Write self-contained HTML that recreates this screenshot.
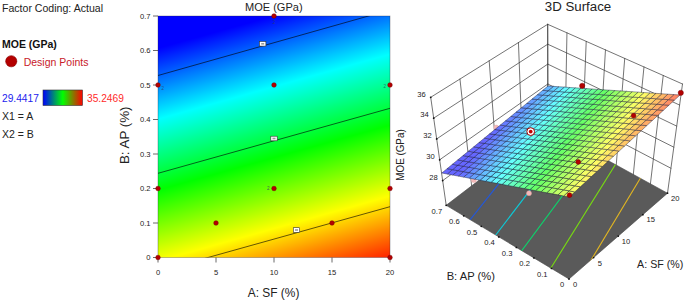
<!DOCTYPE html>
<html><head><meta charset="utf-8"><title>chart</title>
<style>html,body{margin:0;padding:0;background:#fff}body{width:685px;height:300px;overflow:hidden;font-family:"Liberation Sans",sans-serif}</style></head>
<body>
<svg width="685" height="300" viewBox="0 0 685 300" style="display:block">
<rect width="685" height="300" fill="#fff"/>
<defs><linearGradient id="cg" gradientUnits="userSpaceOnUse" x1="103.63" y1="63.45" x2="177.36" y2="326.60">
<stop offset="0" stop-color="#0000ff"/>
<stop offset="0.25" stop-color="#00ffff"/>
<stop offset="0.5" stop-color="#00ff00"/>
<stop offset="0.75" stop-color="#ffff00"/>
<stop offset="1" stop-color="#ff0000"/>
</linearGradient>
<linearGradient id="lg" x1="0" x2="1" y1="0" y2="0"><stop offset="0" stop-color="#0000ff"/><stop offset="0.5" stop-color="#00ff00"/><stop offset="1" stop-color="#ff0000"/></linearGradient>
<clipPath id="cc"><rect x="158" y="16" width="232" height="241.5"/></clipPath></defs>
<rect x="158" y="16" width="232" height="241.5" fill="url(#cg)"/>
<rect x="158" y="16" width="232" height="241.5" fill="none" stroke="#223" stroke-opacity="0.45" stroke-width="0.7"/>
<g clip-path="url(#cc)" stroke="#000" stroke-opacity="0.72" stroke-width="0.85" fill="none">
<line x1="136.95" y1="81.45" x2="389.55" y2="10.05"/>
<line x1="134.80" y1="179.80" x2="413.20" y2="101.80"/>
<line x1="189.80" y1="262.58" x2="408.20" y2="201.62"/>
</g>
<rect x="259.5" y="41.5" width="6.4" height="4.6" fill="#fff" stroke="#333" stroke-width="0.6"/>
<rect x="261.2" y="43.0" width="3" height="1.6" fill="#999"/>
<rect x="270.8" y="136.2" width="6.4" height="4.6" fill="#fff" stroke="#333" stroke-width="0.6"/>
<rect x="272.5" y="137.7" width="3" height="1.6" fill="#999"/>
<rect x="293.3" y="227.7" width="6.4" height="4.6" fill="#fff" stroke="#333" stroke-width="0.6"/>
<rect x="295.0" y="229.2" width="3" height="1.6" fill="#999"/>
<g stroke="#444" stroke-width="0.8">
<line x1="158.0" y1="257.5" x2="158.0" y2="262.5"/>
<line x1="216.0" y1="257.5" x2="216.0" y2="262.5"/>
<line x1="274.0" y1="257.5" x2="274.0" y2="262.5"/>
<line x1="332.0" y1="257.5" x2="332.0" y2="262.5"/>
<line x1="390.0" y1="257.5" x2="390.0" y2="262.5"/>
<line x1="153.0" y1="257.5" x2="158.0" y2="257.5"/>
<line x1="153.0" y1="223.0" x2="158.0" y2="223.0"/>
<line x1="153.0" y1="188.5" x2="158.0" y2="188.5"/>
<line x1="153.0" y1="154.0" x2="158.0" y2="154.0"/>
<line x1="153.0" y1="119.5" x2="158.0" y2="119.5"/>
<line x1="153.0" y1="85.0" x2="158.0" y2="85.0"/>
<line x1="153.0" y1="50.5" x2="158.0" y2="50.5"/>
<line x1="153.0" y1="16.0" x2="158.0" y2="16.0"/>
</g>
<g font-family="Liberation Sans, sans-serif" font-size="7.6" fill="#222">
<text x="158.0" y="275.2" text-anchor="middle">0</text>
<text x="216.0" y="275.2" text-anchor="middle">5</text>
<text x="274.0" y="275.2" text-anchor="middle">10</text>
<text x="332.0" y="275.2" text-anchor="middle">15</text>
<text x="390.0" y="275.2" text-anchor="middle">20</text>
<text x="150.5" y="260.4" text-anchor="end">0</text>
<text x="150.5" y="225.9" text-anchor="end">0.1</text>
<text x="150.5" y="191.4" text-anchor="end">0.2</text>
<text x="150.5" y="156.9" text-anchor="end">0.3</text>
<text x="150.5" y="122.4" text-anchor="end">0.4</text>
<text x="150.5" y="87.9" text-anchor="end">0.5</text>
<text x="150.5" y="53.4" text-anchor="end">0.6</text>
<text x="150.5" y="18.9" text-anchor="end">0.7</text>
</g>
<circle cx="158.0" cy="257.5" r="2.3" fill="#b40000" stroke="#7a0000" stroke-width="0.5"/>
<circle cx="216.0" cy="223.0" r="2.3" fill="#b40000" stroke="#7a0000" stroke-width="0.5"/>
<circle cx="332.0" cy="223.0" r="2.3" fill="#b40000" stroke="#7a0000" stroke-width="0.5"/>
<circle cx="158.0" cy="188.5" r="2.3" fill="#b40000" stroke="#7a0000" stroke-width="0.5"/>
<circle cx="274.0" cy="188.5" r="2.3" fill="#b40000" stroke="#7a0000" stroke-width="0.5"/>
<circle cx="390.0" cy="188.5" r="2.3" fill="#b40000" stroke="#7a0000" stroke-width="0.5"/>
<circle cx="158.0" cy="85.0" r="2.3" fill="#b40000" stroke="#7a0000" stroke-width="0.5"/>
<circle cx="274.0" cy="85.0" r="2.3" fill="#b40000" stroke="#7a0000" stroke-width="0.5"/>
<circle cx="390.0" cy="85.0" r="2.3" fill="#b40000" stroke="#7a0000" stroke-width="0.5"/>
<circle cx="274.0" cy="16.0" r="2.3" fill="#b40000" stroke="#7a0000" stroke-width="0.5"/>
<circle cx="390.0" cy="257.5" r="2.3" fill="#b40000" stroke="#7a0000" stroke-width="0.5"/>
<g font-family="Liberation Sans, sans-serif" font-size="4.5" fill="#2a3a6a" fill-opacity="0.8">
<text x="161.5" y="89.5">2</text>
<text x="267.0" y="190.2">2</text>
<text x="383.5" y="87.5">2</text>
<text x="272.8" y="23.8">2</text>
</g>
<text x="273.8" y="11" text-anchor="middle" textLength="57.6" lengthAdjust="spacingAndGlyphs" font-family="Liberation Sans, sans-serif" font-size="11.8" fill="#222">MOE (GPa)</text>
<text x="273.6" y="296.5" text-anchor="middle" textLength="51.6" lengthAdjust="spacingAndGlyphs" font-family="Liberation Sans, sans-serif" font-size="12" fill="#222">A: SF (%)</text>
<text transform="translate(129.3,135.3) rotate(-90)" text-anchor="middle" textLength="57.6" lengthAdjust="spacingAndGlyphs" font-family="Liberation Sans, sans-serif" font-size="12" fill="#222">B: AP (%)</text>
<text x="2" y="11.8" textLength="101" lengthAdjust="spacingAndGlyphs" font-family="Liberation Sans, sans-serif" font-size="10.3" fill="#222">Factor Coding: Actual</text>
<text x="2" y="47.5" font-family="Liberation Sans, sans-serif" font-size="10.5" font-weight="bold" fill="#111">MOE (GPa)</text>
<circle cx="11.25" cy="61.25" r="5.6" fill="#b40000" stroke="#8a0000" stroke-width="0.6"/>
<text x="23.7" y="65.5" font-family="Liberation Sans, sans-serif" font-size="10.5" fill="#c8202a">Design Points</text>
<text x="2" y="101.8" textLength="36.9" lengthAdjust="spacingAndGlyphs" font-family="Liberation Sans, sans-serif" font-size="10.3" fill="#2222ee">29.4417</text>
<rect x="43" y="90" width="39.5" height="15.5" fill="url(#lg)" stroke="#333" stroke-width="0.6"/>
<text x="87" y="101.8" textLength="36.9" lengthAdjust="spacingAndGlyphs" font-family="Liberation Sans, sans-serif" font-size="10.3" fill="#ff2a2a">35.2469</text>
<text x="2" y="119.5" font-family="Liberation Sans, sans-serif" font-size="10.5" fill="#222">X1 = A</text>
<text x="2" y="137.5" font-family="Liberation Sans, sans-serif" font-size="10.5" fill="#222">X2 = B</text>
<g stroke="#383838" stroke-width="0.7" fill="none" stroke-linecap="round">
<line x1="446.20" y1="205.30" x2="430.70" y2="97.30"/>
<line x1="471.62" y1="185.85" x2="459.95" y2="79.05"/>
<line x1="497.05" y1="166.40" x2="489.20" y2="60.80"/>
<line x1="522.47" y1="146.95" x2="518.45" y2="42.55"/>
<line x1="547.90" y1="127.50" x2="547.70" y2="24.30"/>
<line x1="442.66" y1="180.62" x2="547.85" y2="103.91"/>
<line x1="670.93" y1="168.24" x2="547.85" y2="103.91"/>
<line x1="439.67" y1="159.79" x2="547.82" y2="84.01"/>
<line x1="673.82" y1="147.18" x2="547.82" y2="84.01"/>
<line x1="436.68" y1="138.96" x2="547.78" y2="64.11"/>
<line x1="676.71" y1="126.12" x2="547.78" y2="64.11"/>
<line x1="433.69" y1="118.13" x2="547.74" y2="44.20"/>
<line x1="679.61" y1="105.06" x2="547.74" y2="44.20"/>
<line x1="430.70" y1="97.30" x2="547.70" y2="24.30"/>
<line x1="682.50" y1="84.00" x2="547.70" y2="24.30"/>
<line x1="667.50" y1="193.20" x2="682.50" y2="84.00"/>
<line x1="650.41" y1="183.81" x2="663.24" y2="75.47"/>
<line x1="633.33" y1="174.43" x2="643.99" y2="66.94"/>
<line x1="616.24" y1="165.04" x2="624.73" y2="58.41"/>
<line x1="599.16" y1="155.66" x2="605.47" y2="49.89"/>
<line x1="582.07" y1="146.27" x2="586.21" y2="41.36"/>
<line x1="564.99" y1="136.89" x2="566.96" y2="32.83"/>
<line x1="547.90" y1="127.50" x2="547.70" y2="24.30"/>
</g>
<polygon points="569.00,279.00 446.20,205.30 547.90,127.50 667.50,193.20" fill="#5a5a5a" stroke="#444" stroke-width="0.6"/>
<clipPath id="fc"><polygon points="569.00,279.00 446.20,205.30 547.90,127.50 667.50,193.20"/></clipPath>
<g clip-path="url(#fc)" stroke-width="1.1" fill="none">
<line x1="462.25" y1="229.65" x2="580.50" y2="81.30" stroke="#2458d8"/>
<line x1="487.04" y1="246.41" x2="617.55" y2="75.70" stroke="#0ccad8"/>
<line x1="510.42" y1="265.91" x2="672.10" y2="47.90" stroke="#0cd46c"/>
<line x1="531.47" y1="299.14" x2="807.10" y2="-142.90" stroke="#78dc10"/>
<line x1="578.70" y1="280.63" x2="780.80" y2="-55.20" stroke="#e4b820"/>
</g>
<g fill="#111">
<circle cx="569.00" cy="279.00" r="0.9"/>
<circle cx="551.46" cy="268.47" r="0.9"/>
<circle cx="533.91" cy="257.94" r="0.9"/>
<circle cx="516.37" cy="247.41" r="0.9"/>
<circle cx="498.83" cy="236.89" r="0.9"/>
<circle cx="481.29" cy="226.36" r="0.9"/>
<circle cx="463.74" cy="215.83" r="0.9"/>
<circle cx="446.20" cy="205.30" r="0.9"/>
<circle cx="593.62" cy="257.55" r="0.9"/>
<circle cx="618.25" cy="236.10" r="0.9"/>
<circle cx="642.88" cy="214.65" r="0.9"/>
<circle cx="667.50" cy="193.20" r="0.9"/>
<circle cx="442.66" cy="180.62" r="0.9"/>
<circle cx="439.67" cy="159.79" r="0.9"/>
<circle cx="436.68" cy="138.96" r="0.9"/>
<circle cx="433.69" cy="118.13" r="0.9"/>
<circle cx="430.70" cy="97.30" r="0.9"/>
</g>
<circle cx="473.8" cy="180.1" r="2.5" fill="#f3b9b9" stroke="#e0a0a0" stroke-width="0.4"/>
<circle cx="496.3" cy="127.6" r="2.5" fill="#f3b9b9" stroke="#e0a0a0" stroke-width="0.4"/>
<circle cx="529.0" cy="193.2" r="2.5" fill="#f3b9b9" stroke="#e0a0a0" stroke-width="0.4"/>
<g stroke="#101030" stroke-opacity="0.75" stroke-width="0.55" stroke-linejoin="round">
<polygon points="569.30,197.00 563.65,195.94 569.16,190.87 574.83,191.90" fill="#efff66"/>
<polygon points="563.65,195.94 558.01,194.87 563.50,189.84 569.16,190.87" fill="#d9ff66"/>
<polygon points="558.01,194.87 552.38,193.81 557.85,188.81 563.50,189.84" fill="#c2ff66"/>
<polygon points="552.38,193.81 546.75,192.76 552.21,187.78 557.85,188.81" fill="#acff66"/>
<polygon points="546.75,192.76 541.14,191.70 546.58,186.76 552.21,187.78" fill="#95ff66"/>
<polygon points="541.14,191.70 535.54,190.65 540.96,185.73 546.58,186.76" fill="#7eff66"/>
<polygon points="535.54,190.65 529.95,189.59 535.36,184.71 540.96,185.73" fill="#68ff66"/>
<polygon points="529.95,189.59 524.37,188.54 529.76,183.70 535.36,184.71" fill="#66ff7b"/>
<polygon points="524.37,188.54 518.79,187.49 524.18,182.68 529.76,183.70" fill="#66ff92"/>
<polygon points="518.79,187.49 513.23,186.45 518.60,181.66 524.18,182.68" fill="#66ffa8"/>
<polygon points="513.23,186.45 507.68,185.40 513.04,180.65 518.60,181.66" fill="#66ffbf"/>
<polygon points="507.68,185.40 502.14,184.36 507.49,179.64 513.04,180.65" fill="#66ffd6"/>
<polygon points="502.14,184.36 496.60,183.32 501.95,178.63 507.49,179.64" fill="#66ffec"/>
<polygon points="496.60,183.32 491.08,182.28 496.41,177.62 501.95,178.63" fill="#66fbff"/>
<polygon points="491.08,182.28 485.57,181.24 490.89,176.62 496.41,177.62" fill="#66e4ff"/>
<polygon points="485.57,181.24 480.06,180.20 485.38,175.62 490.89,176.62" fill="#66ceff"/>
<polygon points="480.06,180.20 474.57,179.17 479.88,174.62 485.38,175.62" fill="#66b7ff"/>
<polygon points="474.57,179.17 469.08,178.14 474.40,173.62 479.88,174.62" fill="#66a1ff"/>
<polygon points="469.08,178.14 463.61,177.10 468.92,172.62 474.40,173.62" fill="#668aff"/>
<polygon points="463.61,177.10 458.14,176.08 463.45,171.62 468.92,172.62" fill="#6673ff"/>
<polygon points="458.14,176.08 452.68,175.05 457.99,170.63 463.45,171.62" fill="#6666ff"/>
<polygon points="452.68,175.05 447.24,174.02 452.55,169.64 457.99,170.63" fill="#6666ff"/>
<polygon points="447.24,174.02 441.80,173.00 447.11,168.65 452.55,169.64" fill="#6666ff"/>
<polygon points="574.83,191.90 569.16,190.87 574.68,185.80 580.37,186.80" fill="#f6ff66"/>
<polygon points="569.16,190.87 563.50,189.84 568.99,184.80 574.68,185.80" fill="#e0ff66"/>
<polygon points="563.50,189.84 557.85,188.81 563.33,183.80 568.99,184.80" fill="#c9ff66"/>
<polygon points="557.85,188.81 552.21,187.78 557.67,182.81 563.33,183.80" fill="#b3ff66"/>
<polygon points="552.21,187.78 546.58,186.76 552.02,181.82 557.67,182.81" fill="#9cff66"/>
<polygon points="546.58,186.76 540.96,185.73 546.39,180.82 552.02,181.82" fill="#85ff66"/>
<polygon points="540.96,185.73 535.36,184.71 540.77,179.84 546.39,180.82" fill="#6fff66"/>
<polygon points="535.36,184.71 529.76,183.70 535.16,178.85 540.77,179.84" fill="#66ff74"/>
<polygon points="529.76,183.70 524.18,182.68 529.56,177.87 535.16,178.85" fill="#66ff8b"/>
<polygon points="524.18,182.68 518.60,181.66 523.97,176.88 529.56,177.87" fill="#66ffa1"/>
<polygon points="518.60,181.66 513.04,180.65 518.40,175.90 523.97,176.88" fill="#66ffb8"/>
<polygon points="513.04,180.65 507.49,179.64 512.84,174.92 518.40,175.90" fill="#66ffcf"/>
<polygon points="507.49,179.64 501.95,178.63 507.29,173.95 512.84,174.92" fill="#66ffe5"/>
<polygon points="501.95,178.63 496.41,177.62 501.75,172.97 507.29,173.95" fill="#66fffc"/>
<polygon points="496.41,177.62 490.89,176.62 496.22,172.00 501.75,172.97" fill="#66ecff"/>
<polygon points="490.89,176.62 485.38,175.62 490.71,171.03 496.22,172.00" fill="#66d5ff"/>
<polygon points="485.38,175.62 479.88,174.62 485.20,170.06 490.71,171.03" fill="#66beff"/>
<polygon points="479.88,174.62 474.40,173.62 479.71,169.10 485.20,170.06" fill="#66a8ff"/>
<polygon points="474.40,173.62 468.92,172.62 474.23,168.14 479.71,169.10" fill="#6691ff"/>
<polygon points="468.92,172.62 463.45,171.62 468.76,167.17 474.23,168.14" fill="#667aff"/>
<polygon points="463.45,171.62 457.99,170.63 463.30,166.21 468.76,167.17" fill="#6666ff"/>
<polygon points="457.99,170.63 452.55,169.64 457.86,165.26 463.30,166.21" fill="#6666ff"/>
<polygon points="452.55,169.64 447.11,168.65 452.42,164.30 457.86,165.26" fill="#6666ff"/>
<polygon points="580.37,186.80 574.68,185.80 580.19,180.73 585.90,181.70" fill="#feff66"/>
<polygon points="574.68,185.80 568.99,184.80 574.49,179.76 580.19,180.73" fill="#e7ff66"/>
<polygon points="568.99,184.80 563.33,183.80 568.80,178.80 574.49,179.76" fill="#d0ff66"/>
<polygon points="563.33,183.80 557.67,182.81 563.12,177.83 568.80,178.80" fill="#baff66"/>
<polygon points="557.67,182.81 552.02,181.82 557.46,176.87 563.12,177.83" fill="#a3ff66"/>
<polygon points="552.02,181.82 546.39,180.82 551.81,175.91 557.46,176.87" fill="#8cff66"/>
<polygon points="546.39,180.82 540.77,179.84 546.18,174.96 551.81,175.91" fill="#76ff66"/>
<polygon points="540.77,179.84 535.16,178.85 540.55,174.00 546.18,174.96" fill="#66ff6d"/>
<polygon points="535.16,178.85 529.56,177.87 534.94,173.05 540.55,174.00" fill="#66ff84"/>
<polygon points="529.56,177.87 523.97,176.88 529.35,172.10 534.94,173.05" fill="#66ff9a"/>
<polygon points="523.97,176.88 518.40,175.90 523.76,171.15 529.35,172.10" fill="#66ffb1"/>
<polygon points="518.40,175.90 512.84,174.92 518.19,170.21 523.76,171.15" fill="#66ffc8"/>
<polygon points="512.84,174.92 507.29,173.95 512.63,169.27 518.19,170.21" fill="#66ffde"/>
<polygon points="507.29,173.95 501.75,172.97 507.08,168.32 512.63,169.27" fill="#66fff5"/>
<polygon points="501.75,172.97 496.22,172.00 501.55,167.39 507.08,168.32" fill="#66f3ff"/>
<polygon points="496.22,172.00 490.71,171.03 496.03,166.45 501.55,167.39" fill="#66dcff"/>
<polygon points="490.71,171.03 485.20,170.06 490.52,165.51 496.03,166.45" fill="#66c5ff"/>
<polygon points="485.20,170.06 479.71,169.10 485.02,164.58 490.52,165.51" fill="#66afff"/>
<polygon points="479.71,169.10 474.23,168.14 479.54,163.65 485.02,164.58" fill="#6698ff"/>
<polygon points="474.23,168.14 468.76,167.17 474.07,162.72 479.54,163.65" fill="#6681ff"/>
<polygon points="468.76,167.17 463.30,166.21 468.61,161.80 474.07,162.72" fill="#666bff"/>
<polygon points="463.30,166.21 457.86,165.26 463.16,160.87 468.61,161.80" fill="#6666ff"/>
<polygon points="457.86,165.26 452.42,164.30 457.73,159.95 463.16,160.87" fill="#6666ff"/>
<polygon points="585.90,181.70 580.19,180.73 585.70,175.66 591.44,176.60" fill="#fff966"/>
<polygon points="580.19,180.73 574.49,179.76 579.98,174.73 585.70,175.66" fill="#eeff66"/>
<polygon points="574.49,179.76 568.80,178.80 574.27,173.79 579.98,174.73" fill="#d7ff66"/>
<polygon points="568.80,178.80 563.12,177.83 568.58,172.86 574.27,173.79" fill="#c1ff66"/>
<polygon points="563.12,177.83 557.46,176.87 562.90,171.93 568.58,172.86" fill="#aaff66"/>
<polygon points="557.46,176.87 551.81,175.91 557.24,171.01 562.90,171.93" fill="#93ff66"/>
<polygon points="551.81,175.91 546.18,174.96 551.59,170.08 557.24,171.01" fill="#7dff66"/>
<polygon points="546.18,174.96 540.55,174.00 545.95,169.16 551.59,170.08" fill="#66ff66"/>
<polygon points="540.55,174.00 534.94,173.05 540.33,168.24 545.95,169.16" fill="#66ff7d"/>
<polygon points="534.94,173.05 529.35,172.10 534.72,167.32 540.33,168.24" fill="#66ff93"/>
<polygon points="529.35,172.10 523.76,171.15 529.12,166.41 534.72,167.32" fill="#66ffaa"/>
<polygon points="523.76,171.15 518.19,170.21 523.54,165.49 529.12,166.41" fill="#66ffc1"/>
<polygon points="518.19,170.21 512.63,169.27 517.97,164.58 523.54,165.49" fill="#66ffd7"/>
<polygon points="512.63,169.27 507.08,168.32 512.42,163.68 517.97,164.58" fill="#66ffee"/>
<polygon points="507.08,168.32 501.55,167.39 506.88,162.77 512.42,163.68" fill="#66faff"/>
<polygon points="501.55,167.39 496.03,166.45 501.35,161.87 506.88,162.77" fill="#66e3ff"/>
<polygon points="496.03,166.45 490.52,165.51 495.84,160.96 501.35,161.87" fill="#66ccff"/>
<polygon points="490.52,165.51 485.02,164.58 490.34,160.06 495.84,160.96" fill="#66b6ff"/>
<polygon points="485.02,164.58 479.54,163.65 484.85,159.17 490.34,160.06" fill="#669fff"/>
<polygon points="479.54,163.65 474.07,162.72 479.38,158.27 484.85,159.17" fill="#6688ff"/>
<polygon points="474.07,162.72 468.61,161.80 473.92,157.38 479.38,158.27" fill="#6672ff"/>
<polygon points="468.61,161.80 463.16,160.87 468.47,156.49 473.92,157.38" fill="#6666ff"/>
<polygon points="463.16,160.87 457.73,159.95 463.04,155.60 468.47,156.49" fill="#6666ff"/>
<polygon points="591.44,176.60 585.70,175.66 591.22,170.59 596.97,171.50" fill="#fff266"/>
<polygon points="585.70,175.66 579.98,174.73 585.48,169.69 591.22,170.59" fill="#f5ff66"/>
<polygon points="579.98,174.73 574.27,173.79 579.75,168.79 585.48,169.69" fill="#deff66"/>
<polygon points="574.27,173.79 568.58,172.86 574.04,167.89 579.75,168.79" fill="#c8ff66"/>
<polygon points="568.58,172.86 562.90,171.93 568.34,166.99 574.04,167.89" fill="#b1ff66"/>
<polygon points="562.90,171.93 557.24,171.01 562.66,166.10 568.34,166.99" fill="#9aff66"/>
<polygon points="557.24,171.01 551.59,170.08 556.99,165.21 562.66,166.10" fill="#84ff66"/>
<polygon points="551.59,170.08 545.95,169.16 551.34,164.32 556.99,165.21" fill="#6dff66"/>
<polygon points="545.95,169.16 540.33,168.24 545.71,163.43 551.34,164.32" fill="#66ff76"/>
<polygon points="540.33,168.24 534.72,167.32 540.09,162.54 545.71,163.43" fill="#66ff8c"/>
<polygon points="534.72,167.32 529.12,166.41 534.48,161.66 540.09,162.54" fill="#66ffa3"/>
<polygon points="529.12,166.41 523.54,165.49 528.89,160.78 534.48,161.66" fill="#66ffba"/>
<polygon points="523.54,165.49 517.97,164.58 523.31,159.90 528.89,160.78" fill="#66ffd0"/>
<polygon points="517.97,164.58 512.42,163.68 517.75,159.03 523.31,159.90" fill="#66ffe7"/>
<polygon points="512.42,163.68 506.88,162.77 512.20,158.15 517.75,159.03" fill="#66fffd"/>
<polygon points="506.88,162.77 501.35,161.87 506.67,157.28 512.20,158.15" fill="#66eaff"/>
<polygon points="501.35,161.87 495.84,160.96 501.15,156.41 506.67,157.28" fill="#66d3ff"/>
<polygon points="495.84,160.96 490.34,160.06 495.65,155.55 501.15,156.41" fill="#66bdff"/>
<polygon points="490.34,160.06 484.85,159.17 490.16,154.68 495.65,155.55" fill="#66a6ff"/>
<polygon points="484.85,159.17 479.38,158.27 484.69,153.82 490.16,154.68" fill="#668fff"/>
<polygon points="479.38,158.27 473.92,157.38 479.23,152.96 484.69,153.82" fill="#6679ff"/>
<polygon points="473.92,157.38 468.47,156.49 473.78,152.11 479.23,152.96" fill="#6666ff"/>
<polygon points="468.47,156.49 463.04,155.60 468.35,151.25 473.78,152.11" fill="#6666ff"/>
<polygon points="596.97,171.50 591.22,170.59 596.73,165.53 602.51,166.40" fill="#ffeb66"/>
<polygon points="591.22,170.59 585.48,169.69 590.97,164.65 596.73,165.53" fill="#fcff66"/>
<polygon points="585.48,169.69 579.75,168.79 585.22,163.78 590.97,164.65" fill="#e5ff66"/>
<polygon points="579.75,168.79 574.04,167.89 579.49,162.92 585.22,163.78" fill="#cfff66"/>
<polygon points="574.04,167.89 568.34,166.99 573.78,162.05 579.49,162.92" fill="#b8ff66"/>
<polygon points="568.34,166.99 562.66,166.10 568.08,161.19 573.78,162.05" fill="#a1ff66"/>
<polygon points="562.66,166.10 556.99,165.21 562.40,160.33 568.08,161.19" fill="#8bff66"/>
<polygon points="556.99,165.21 551.34,164.32 556.74,159.47 562.40,160.33" fill="#74ff66"/>
<polygon points="551.34,164.32 545.71,163.43 551.09,158.62 556.74,159.47" fill="#66ff6f"/>
<polygon points="545.71,163.43 540.09,162.54 545.46,157.77 551.09,158.62" fill="#66ff85"/>
<polygon points="540.09,162.54 534.48,161.66 539.84,156.92 545.46,157.77" fill="#66ff9c"/>
<polygon points="534.48,161.66 528.89,160.78 534.24,156.07 539.84,156.92" fill="#66ffb3"/>
<polygon points="528.89,160.78 523.31,159.90 528.65,155.22 534.24,156.07" fill="#66ffc9"/>
<polygon points="523.31,159.90 517.75,159.03 523.09,154.38 528.65,155.22" fill="#66ffe0"/>
<polygon points="517.75,159.03 512.20,158.15 517.53,153.54 523.09,154.38" fill="#66fff6"/>
<polygon points="512.20,158.15 506.67,157.28 511.99,152.70 517.53,153.54" fill="#66f1ff"/>
<polygon points="506.67,157.28 501.15,156.41 506.47,151.87 511.99,152.70" fill="#66daff"/>
<polygon points="501.15,156.41 495.65,155.55 500.96,151.03 506.47,151.87" fill="#66c4ff"/>
<polygon points="495.65,155.55 490.16,154.68 495.47,150.20 500.96,151.03" fill="#66adff"/>
<polygon points="490.16,154.68 484.69,153.82 490.00,149.37 495.47,150.20" fill="#6696ff"/>
<polygon points="484.69,153.82 479.23,152.96 484.54,148.55 490.00,149.37" fill="#6680ff"/>
<polygon points="479.23,152.96 473.78,152.11 479.09,147.72 484.54,148.55" fill="#6669ff"/>
<polygon points="473.78,152.11 468.35,151.25 473.66,146.90 479.09,147.72" fill="#6666ff"/>
<polygon points="602.51,166.40 596.73,165.53 602.24,160.46 608.04,161.30" fill="#ffe466"/>
<polygon points="596.73,165.53 590.97,164.65 596.46,159.62 602.24,160.46" fill="#fffb66"/>
<polygon points="590.97,164.65 585.22,163.78 590.70,158.78 596.46,159.62" fill="#ecff66"/>
<polygon points="585.22,163.78 579.49,162.92 584.95,157.94 590.70,158.78" fill="#d6ff66"/>
<polygon points="579.49,162.92 573.78,162.05 579.22,157.11 584.95,157.94" fill="#bfff66"/>
<polygon points="573.78,162.05 568.08,161.19 573.51,156.28 579.22,157.11" fill="#a8ff66"/>
<polygon points="568.08,161.19 562.40,160.33 567.81,155.46 573.51,156.28" fill="#92ff66"/>
<polygon points="562.40,160.33 556.74,159.47 562.13,154.63 567.81,155.46" fill="#7bff66"/>
<polygon points="556.74,159.47 551.09,158.62 556.47,153.81 562.13,154.63" fill="#66ff68"/>
<polygon points="551.09,158.62 545.46,157.77 550.83,152.99 556.47,153.81" fill="#66ff7e"/>
<polygon points="545.46,157.77 539.84,156.92 545.20,152.17 550.83,152.99" fill="#66ff95"/>
<polygon points="539.84,156.92 534.24,156.07 539.59,151.36 545.20,152.17" fill="#66ffac"/>
<polygon points="534.24,156.07 528.65,155.22 533.99,150.54 539.59,151.36" fill="#66ffc2"/>
<polygon points="528.65,155.22 523.09,154.38 528.42,149.73 533.99,150.54" fill="#66ffd9"/>
<polygon points="523.09,154.38 517.53,153.54 522.86,148.93 528.42,149.73" fill="#66ffef"/>
<polygon points="517.53,153.54 511.99,152.70 517.31,148.12 522.86,148.93" fill="#66f8ff"/>
<polygon points="511.99,152.70 506.47,151.87 511.79,147.32 517.31,148.12" fill="#66e1ff"/>
<polygon points="506.47,151.87 500.96,151.03 506.28,146.52 511.79,147.32" fill="#66cbff"/>
<polygon points="500.96,151.03 495.47,150.20 500.78,145.72 506.28,146.52" fill="#66b4ff"/>
<polygon points="495.47,150.20 490.00,149.37 495.31,144.92 500.78,145.72" fill="#669dff"/>
<polygon points="490.00,149.37 484.54,148.55 489.84,144.13 495.31,144.92" fill="#6687ff"/>
<polygon points="484.54,148.55 479.09,147.72 484.40,143.34 489.84,144.13" fill="#6670ff"/>
<polygon points="479.09,147.72 473.66,146.90 478.97,142.55 484.40,143.34" fill="#6666ff"/>
<polygon points="608.04,161.30 602.24,160.46 607.76,155.39 613.58,156.20" fill="#ffdd66"/>
<polygon points="602.24,160.46 596.46,159.62 601.95,154.58 607.76,155.39" fill="#fff466"/>
<polygon points="596.46,159.62 590.70,158.78 596.17,153.78 601.95,154.58" fill="#f3ff66"/>
<polygon points="590.70,158.78 584.95,157.94 590.40,152.97 596.17,153.78" fill="#ddff66"/>
<polygon points="584.95,157.94 579.22,157.11 584.66,152.17 590.40,152.97" fill="#c6ff66"/>
<polygon points="579.22,157.11 573.51,156.28 578.93,151.38 584.66,152.17" fill="#afff66"/>
<polygon points="573.51,156.28 567.81,155.46 573.22,150.58 578.93,151.38" fill="#99ff66"/>
<polygon points="567.81,155.46 562.13,154.63 567.52,149.79 573.22,150.58" fill="#82ff66"/>
<polygon points="562.13,154.63 556.47,153.81 561.85,149.00 567.52,149.79" fill="#6bff66"/>
<polygon points="556.47,153.81 550.83,152.99 556.19,148.21 561.85,149.00" fill="#66ff77"/>
<polygon points="550.83,152.99 545.20,152.17 550.56,147.43 556.19,148.21" fill="#66ff8e"/>
<polygon points="545.20,152.17 539.59,151.36 544.94,146.64 550.56,147.43" fill="#66ffa5"/>
<polygon points="539.59,151.36 533.99,150.54 539.34,145.86 544.94,146.64" fill="#66ffbb"/>
<polygon points="533.99,150.54 528.42,149.73 533.75,145.09 539.34,145.86" fill="#66ffd2"/>
<polygon points="528.42,149.73 522.86,148.93 528.18,144.31 533.75,145.09" fill="#66ffe8"/>
<polygon points="522.86,148.93 517.31,148.12 522.64,143.54 528.18,144.31" fill="#66ffff"/>
<polygon points="517.31,148.12 511.79,147.32 517.10,142.77 522.64,143.54" fill="#66e8ff"/>
<polygon points="511.79,147.32 506.28,146.52 511.59,142.00 517.10,142.77" fill="#66d2ff"/>
<polygon points="506.28,146.52 500.78,145.72 506.09,141.24 511.59,142.00" fill="#66bbff"/>
<polygon points="500.78,145.72 495.31,144.92 500.61,140.47 506.09,141.24" fill="#66a4ff"/>
<polygon points="495.31,144.92 489.84,144.13 495.15,139.71 500.61,140.47" fill="#668eff"/>
<polygon points="489.84,144.13 484.40,143.34 489.71,138.96 495.15,139.71" fill="#6677ff"/>
<polygon points="484.40,143.34 478.97,142.55 484.28,138.20 489.71,138.96" fill="#6666ff"/>
<polygon points="613.58,156.20 607.76,155.39 613.27,150.32 619.12,151.10" fill="#ffd666"/>
<polygon points="607.76,155.39 601.95,154.58 607.45,149.55 613.27,150.32" fill="#ffed66"/>
<polygon points="601.95,154.58 596.17,153.78 601.64,148.77 607.45,149.55" fill="#faff66"/>
<polygon points="596.17,153.78 590.40,152.97 595.86,148.00 601.64,148.77" fill="#e4ff66"/>
<polygon points="590.40,152.97 584.66,152.17 590.09,147.24 595.86,148.00" fill="#cdff66"/>
<polygon points="584.66,152.17 578.93,151.38 584.35,146.47 590.09,147.24" fill="#b6ff66"/>
<polygon points="578.93,151.38 573.22,150.58 578.62,145.71 584.35,146.47" fill="#a0ff66"/>
<polygon points="573.22,150.58 567.52,149.79 572.92,144.95 578.62,145.71" fill="#89ff66"/>
<polygon points="567.52,149.79 561.85,149.00 567.23,144.19 572.92,144.95" fill="#72ff66"/>
<polygon points="561.85,149.00 556.19,148.21 561.56,143.44 567.23,144.19" fill="#66ff70"/>
<polygon points="556.19,148.21 550.56,147.43 555.92,142.68 561.56,143.44" fill="#66ff87"/>
<polygon points="550.56,147.43 544.94,146.64 550.29,141.93 555.92,142.68" fill="#66ff9e"/>
<polygon points="544.94,146.64 539.34,145.86 544.68,141.19 550.29,141.93" fill="#66ffb4"/>
<polygon points="539.34,145.86 533.75,145.09 539.08,140.44 544.68,141.19" fill="#66ffcb"/>
<polygon points="533.75,145.09 528.18,144.31 533.51,139.70 539.08,140.44" fill="#66ffe1"/>
<polygon points="528.18,144.31 522.64,143.54 527.96,138.96 533.51,139.70" fill="#66fff8"/>
<polygon points="522.64,143.54 517.10,142.77 522.42,138.22 527.96,138.96" fill="#66efff"/>
<polygon points="517.10,142.77 511.59,142.00 516.90,137.49 522.42,138.22" fill="#66d9ff"/>
<polygon points="511.59,142.00 506.09,141.24 511.40,136.76 516.90,137.49" fill="#66c2ff"/>
<polygon points="506.09,141.24 500.61,140.47 505.92,136.03 511.40,136.76" fill="#66abff"/>
<polygon points="500.61,140.47 495.15,139.71 500.46,135.30 505.92,136.03" fill="#6695ff"/>
<polygon points="495.15,139.71 489.71,138.96 495.02,134.57 500.46,135.30" fill="#667eff"/>
<polygon points="489.71,138.96 484.28,138.20 489.59,133.85 495.02,134.57" fill="#6667ff"/>
<polygon points="619.12,151.10 613.27,150.32 618.78,145.25 624.65,146.00" fill="#ffcf66"/>
<polygon points="613.27,150.32 607.45,149.55 612.94,144.51 618.78,145.25" fill="#ffe666"/>
<polygon points="607.45,149.55 601.64,148.77 607.12,143.77 612.94,144.51" fill="#fffd66"/>
<polygon points="601.64,148.77 595.86,148.00 601.31,143.03 607.12,143.77" fill="#ebff66"/>
<polygon points="595.86,148.00 590.09,147.24 595.53,142.30 601.31,143.03" fill="#d4ff66"/>
<polygon points="590.09,147.24 584.35,146.47 589.77,141.56 595.53,142.30" fill="#bdff66"/>
<polygon points="584.35,146.47 578.62,145.71 584.03,140.83 589.77,141.56" fill="#a7ff66"/>
<polygon points="578.62,145.71 572.92,144.95 578.31,140.11 584.03,140.83" fill="#90ff66"/>
<polygon points="572.92,144.95 567.23,144.19 572.61,139.38 578.31,140.11" fill="#79ff66"/>
<polygon points="567.23,144.19 561.56,143.44 566.93,138.66 572.61,139.38" fill="#66ff69"/>
<polygon points="561.56,143.44 555.92,142.68 561.27,137.94 566.93,138.66" fill="#66ff80"/>
<polygon points="555.92,142.68 550.29,141.93 555.63,137.22 561.27,137.94" fill="#66ff97"/>
<polygon points="550.29,141.93 544.68,141.19 550.02,136.51 555.63,137.22" fill="#66ffad"/>
<polygon points="544.68,141.19 539.08,140.44 544.42,135.80 550.02,136.51" fill="#66ffc4"/>
<polygon points="539.08,140.44 533.51,139.70 538.84,135.09 544.42,135.80" fill="#66ffda"/>
<polygon points="533.51,139.70 527.96,138.96 533.28,134.38 538.84,135.09" fill="#66fff1"/>
<polygon points="527.96,138.96 522.42,138.22 527.74,133.68 533.28,134.38" fill="#66f6ff"/>
<polygon points="522.42,138.22 516.90,137.49 522.22,132.97 527.74,133.68" fill="#66e0ff"/>
<polygon points="516.90,137.49 511.40,136.76 516.71,132.27 522.22,132.97" fill="#66c9ff"/>
<polygon points="511.40,136.76 505.92,136.03 511.23,131.58 516.71,132.27" fill="#66b2ff"/>
<polygon points="505.92,136.03 500.46,135.30 505.77,130.88 511.23,131.58" fill="#669cff"/>
<polygon points="500.46,135.30 495.02,134.57 500.33,130.19 505.77,130.88" fill="#6685ff"/>
<polygon points="495.02,134.57 489.59,133.85 494.90,129.50 500.33,130.19" fill="#666eff"/>
<polygon points="624.65,146.00 618.78,145.25 624.30,140.19 630.18,140.90" fill="#ffc866"/>
<polygon points="618.78,145.25 612.94,144.51 618.43,139.48 624.30,140.19" fill="#ffdf66"/>
<polygon points="612.94,144.51 607.12,143.77 612.59,138.77 618.43,139.48" fill="#fff666"/>
<polygon points="607.12,143.77 601.31,143.03 606.77,138.06 612.59,138.77" fill="#f2ff66"/>
<polygon points="601.31,143.03 595.53,142.30 600.97,137.36 606.77,138.06" fill="#dbff66"/>
<polygon points="595.53,142.30 589.77,141.56 595.19,136.66 600.97,137.36" fill="#c4ff66"/>
<polygon points="589.77,141.56 584.03,140.83 589.44,135.96 595.19,136.66" fill="#aeff66"/>
<polygon points="584.03,140.83 578.31,140.11 583.70,135.27 589.44,135.96" fill="#97ff66"/>
<polygon points="578.31,140.11 572.61,139.38 577.99,134.58 583.70,135.27" fill="#80ff66"/>
<polygon points="572.61,139.38 566.93,138.66 572.30,133.89 577.99,134.58" fill="#6aff66"/>
<polygon points="566.93,138.66 561.27,137.94 566.63,133.20 572.30,133.89" fill="#66ff79"/>
<polygon points="561.27,137.94 555.63,137.22 560.98,132.51 566.63,133.20" fill="#66ff8f"/>
<polygon points="555.63,137.22 550.02,136.51 555.35,131.83 560.98,132.51" fill="#66ffa6"/>
<polygon points="550.02,136.51 544.42,135.80 549.75,131.15 555.35,131.83" fill="#66ffbd"/>
<polygon points="544.42,135.80 538.84,135.09 544.16,130.48 549.75,131.15" fill="#66ffd3"/>
<polygon points="538.84,135.09 533.28,134.38 538.60,129.80 544.16,130.48" fill="#66ffea"/>
<polygon points="533.28,134.38 527.74,133.68 533.05,129.13 538.60,129.80" fill="#66fdff"/>
<polygon points="527.74,133.68 522.22,132.97 527.53,128.46 533.05,129.13" fill="#66e7ff"/>
<polygon points="522.22,132.97 516.71,132.27 522.02,127.79 527.53,128.46" fill="#66d0ff"/>
<polygon points="516.71,132.27 511.23,131.58 516.54,127.13 522.02,127.79" fill="#66b9ff"/>
<polygon points="511.23,131.58 505.77,130.88 511.08,126.47 516.54,127.13" fill="#66a3ff"/>
<polygon points="505.77,130.88 500.33,130.19 505.63,125.81 511.08,126.47" fill="#668cff"/>
<polygon points="500.33,130.19 494.90,129.50 500.21,125.15 505.63,125.81" fill="#6675ff"/>
<polygon points="630.18,140.90 624.30,140.19 629.81,135.12 635.72,135.80" fill="#ffc166"/>
<polygon points="624.30,140.19 618.43,139.48 623.92,134.44 629.81,135.12" fill="#ffd866"/>
<polygon points="618.43,139.48 612.59,138.77 618.06,133.77 623.92,134.44" fill="#ffef66"/>
<polygon points="612.59,138.77 606.77,138.06 612.22,133.09 618.06,133.77" fill="#f9ff66"/>
<polygon points="606.77,138.06 600.97,137.36 606.41,132.42 612.22,133.09" fill="#e2ff66"/>
<polygon points="600.97,137.36 595.19,136.66 600.61,131.76 606.41,132.42" fill="#cbff66"/>
<polygon points="595.19,136.66 589.44,135.96 594.84,131.09 600.61,131.76" fill="#b5ff66"/>
<polygon points="589.44,135.96 583.70,135.27 589.10,130.43 594.84,131.09" fill="#9eff66"/>
<polygon points="583.70,135.27 577.99,134.58 583.37,129.77 589.10,130.43" fill="#87ff66"/>
<polygon points="577.99,134.58 572.30,133.89 577.67,129.11 583.37,129.77" fill="#71ff66"/>
<polygon points="572.30,133.89 566.63,133.20 571.99,128.46 577.67,129.11" fill="#66ff72"/>
<polygon points="566.63,133.20 560.98,132.51 566.33,127.81 571.99,128.46" fill="#66ff88"/>
<polygon points="560.98,132.51 555.35,131.83 560.69,127.16 566.33,127.81" fill="#66ff9f"/>
<polygon points="555.35,131.83 549.75,131.15 555.08,126.51 560.69,127.16" fill="#66ffb6"/>
<polygon points="549.75,131.15 544.16,130.48 549.49,125.87 555.08,126.51" fill="#66ffcc"/>
<polygon points="544.16,130.48 538.60,129.80 543.92,125.22 549.49,125.87" fill="#66ffe3"/>
<polygon points="538.60,129.80 533.05,129.13 538.37,124.58 543.92,125.22" fill="#66fffa"/>
<polygon points="533.05,129.13 527.53,128.46 532.84,123.95 538.37,124.58" fill="#66eeff"/>
<polygon points="527.53,128.46 522.02,127.79 527.33,123.31 532.84,123.95" fill="#66d7ff"/>
<polygon points="522.02,127.79 516.54,127.13 521.85,122.68 527.33,123.31" fill="#66c0ff"/>
<polygon points="516.54,127.13 511.08,126.47 516.39,122.05 521.85,122.68" fill="#66aaff"/>
<polygon points="511.08,126.47 505.63,125.81 510.94,121.42 516.39,122.05" fill="#6693ff"/>
<polygon points="505.63,125.81 500.21,125.15 505.52,120.80 510.94,121.42" fill="#667cff"/>
<polygon points="635.72,135.80 629.81,135.12 635.32,130.05 641.25,130.70" fill="#ffba66"/>
<polygon points="629.81,135.12 623.92,134.44 629.42,129.41 635.32,130.05" fill="#ffd166"/>
<polygon points="623.92,134.44 618.06,133.77 623.53,128.76 629.42,129.41" fill="#ffe866"/>
<polygon points="618.06,133.77 612.22,133.09 617.68,128.12 623.53,128.76" fill="#fffe66"/>
<polygon points="612.22,133.09 606.41,132.42 611.84,127.49 617.68,128.12" fill="#e9ff66"/>
<polygon points="606.41,132.42 600.61,131.76 606.03,126.85 611.84,127.49" fill="#d2ff66"/>
<polygon points="600.61,131.76 594.84,131.09 600.25,126.22 606.03,126.85" fill="#bcff66"/>
<polygon points="594.84,131.09 589.10,130.43 594.49,125.59 600.25,126.22" fill="#a5ff66"/>
<polygon points="589.10,130.43 583.37,129.77 588.75,124.96 594.49,125.59" fill="#8eff66"/>
<polygon points="583.37,129.77 577.67,129.11 583.03,124.34 588.75,124.96" fill="#78ff66"/>
<polygon points="577.67,129.11 571.99,128.46 577.34,123.72 583.03,124.34" fill="#66ff6b"/>
<polygon points="571.99,128.46 566.33,127.81 571.68,123.10 577.34,123.72" fill="#66ff81"/>
<polygon points="566.33,127.81 560.69,127.16 566.03,122.48 571.68,123.10" fill="#66ff98"/>
<polygon points="560.69,127.16 555.08,126.51 560.41,121.87 566.03,122.48" fill="#66ffaf"/>
<polygon points="555.08,126.51 549.49,125.87 554.81,121.26 560.41,121.87" fill="#66ffc5"/>
<polygon points="549.49,125.87 543.92,125.22 549.24,120.65 554.81,121.26" fill="#66ffdc"/>
<polygon points="543.92,125.22 538.37,124.58 543.68,120.04 549.24,120.65" fill="#66fff3"/>
<polygon points="538.37,124.58 532.84,123.95 538.15,119.44 543.68,120.04" fill="#66f5ff"/>
<polygon points="532.84,123.95 527.33,123.31 532.64,118.83 538.15,119.44" fill="#66deff"/>
<polygon points="527.33,123.31 521.85,122.68 527.16,118.23 532.64,118.83" fill="#66c7ff"/>
<polygon points="521.85,122.68 516.39,122.05 521.69,117.64 527.16,118.23" fill="#66b1ff"/>
<polygon points="516.39,122.05 510.94,121.42 516.25,117.04 521.69,117.64" fill="#669aff"/>
<polygon points="510.94,121.42 505.52,120.80 510.83,116.45 516.25,117.04" fill="#6683ff"/>
<polygon points="641.25,130.70 635.32,130.05 640.84,124.98 646.79,125.60" fill="#ffb366"/>
<polygon points="635.32,130.05 629.42,129.41 634.91,124.37 640.84,124.98" fill="#ffca66"/>
<polygon points="629.42,129.41 623.53,128.76 629.01,123.76 634.91,124.37" fill="#ffe166"/>
<polygon points="623.53,128.76 617.68,128.12 623.13,123.16 629.01,123.76" fill="#fff766"/>
<polygon points="617.68,128.12 611.84,127.49 617.28,122.55 623.13,123.16" fill="#f0ff66"/>
<polygon points="611.84,127.49 606.03,126.85 611.45,121.95 617.28,122.55" fill="#d9ff66"/>
<polygon points="606.03,126.85 600.25,126.22 605.65,121.35 611.45,121.95" fill="#c3ff66"/>
<polygon points="600.25,126.22 594.49,125.59 599.88,120.75 605.65,121.35" fill="#acff66"/>
<polygon points="594.49,125.59 588.75,124.96 594.13,120.16 599.88,120.75" fill="#95ff66"/>
<polygon points="588.75,124.96 583.03,124.34 588.40,119.57 594.13,120.16" fill="#7fff66"/>
<polygon points="583.03,124.34 577.34,123.72 582.70,118.98 588.40,119.57" fill="#68ff66"/>
<polygon points="577.34,123.72 571.68,123.10 577.02,118.39 582.70,118.98" fill="#66ff7a"/>
<polygon points="571.68,123.10 566.03,122.48 571.37,117.81 577.02,118.39" fill="#66ff91"/>
<polygon points="566.03,122.48 560.41,121.87 565.74,117.23 571.37,117.81" fill="#66ffa8"/>
<polygon points="560.41,121.87 554.81,121.26 560.14,116.65 565.74,117.23" fill="#66ffbe"/>
<polygon points="554.81,121.26 549.24,120.65 554.56,116.07 560.14,116.65" fill="#66ffd5"/>
<polygon points="549.24,120.65 543.68,120.04 549.00,115.50 554.56,116.07" fill="#66ffec"/>
<polygon points="543.68,120.04 538.15,119.44 543.46,114.92 549.00,115.50" fill="#66fcff"/>
<polygon points="538.15,119.44 532.64,118.83 537.95,114.35 543.46,114.92" fill="#66e5ff"/>
<polygon points="532.64,118.83 527.16,118.23 532.47,113.79 537.95,114.35" fill="#66ceff"/>
<polygon points="527.16,118.23 521.69,117.64 527.00,113.22 532.47,113.79" fill="#66b8ff"/>
<polygon points="521.69,117.64 516.25,117.04 521.56,112.66 527.00,113.22" fill="#66a1ff"/>
<polygon points="516.25,117.04 510.83,116.45 516.14,112.10 521.56,112.66" fill="#668aff"/>
<polygon points="646.79,125.60 640.84,124.98 646.35,119.92 652.33,120.50" fill="#ffac66"/>
<polygon points="640.84,124.98 634.91,124.37 640.40,119.34 646.35,119.92" fill="#ffc366"/>
<polygon points="634.91,124.37 629.01,123.76 634.48,118.76 640.40,119.34" fill="#ffda66"/>
<polygon points="629.01,123.76 623.13,123.16 628.58,118.19 634.48,118.76" fill="#fff066"/>
<polygon points="623.13,123.16 617.28,122.55 622.72,117.62 628.58,118.19" fill="#f7ff66"/>
<polygon points="617.28,122.55 611.45,121.95 616.87,117.05 622.72,117.62" fill="#e0ff66"/>
<polygon points="611.45,121.95 605.65,121.35 611.06,116.48 616.87,117.05" fill="#caff66"/>
<polygon points="605.65,121.35 599.88,120.75 605.27,115.92 611.06,116.48" fill="#b3ff66"/>
<polygon points="599.88,120.75 594.13,120.16 599.51,115.35 605.27,115.92" fill="#9cff66"/>
<polygon points="594.13,120.16 588.40,119.57 593.77,114.80 599.51,115.35" fill="#86ff66"/>
<polygon points="588.40,119.57 582.70,118.98 588.06,114.24 593.77,114.80" fill="#6fff66"/>
<polygon points="582.70,118.98 577.02,118.39 582.37,113.68 588.06,114.24" fill="#66ff73"/>
<polygon points="577.02,118.39 571.37,117.81 576.71,113.13 582.37,113.68" fill="#66ff8a"/>
<polygon points="571.37,117.81 565.74,117.23 571.07,112.58 576.71,113.13" fill="#66ffa1"/>
<polygon points="565.74,117.23 560.14,116.65 565.46,112.04 571.07,112.58" fill="#66ffb7"/>
<polygon points="560.14,116.65 554.56,116.07 559.87,111.49 565.46,112.04" fill="#66ffce"/>
<polygon points="554.56,116.07 549.00,115.50 554.31,110.95 559.87,111.49" fill="#66ffe5"/>
<polygon points="549.00,115.50 543.46,114.92 548.78,110.41 554.31,110.95" fill="#66fffb"/>
<polygon points="543.46,114.92 537.95,114.35 543.26,109.88 548.78,110.41" fill="#66ecff"/>
<polygon points="537.95,114.35 532.47,113.79 537.77,109.34 543.26,109.88" fill="#66d5ff"/>
<polygon points="532.47,113.79 527.00,113.22 532.31,108.81 537.77,109.34" fill="#66bfff"/>
<polygon points="527.00,113.22 521.56,112.66 526.87,108.28 532.31,108.81" fill="#66a8ff"/>
<polygon points="521.56,112.66 516.14,112.10 521.45,107.75 526.87,108.28" fill="#6691ff"/>
<polygon points="652.33,120.50 646.35,119.92 651.86,114.85 657.86,115.40" fill="#ffa566"/>
<polygon points="646.35,119.92 640.40,119.34 645.89,114.30 651.86,114.85" fill="#ffbc66"/>
<polygon points="640.40,119.34 634.48,118.76 639.95,113.76 645.89,114.30" fill="#ffd366"/>
<polygon points="634.48,118.76 628.58,118.19 634.04,113.22 639.95,113.76" fill="#ffe966"/>
<polygon points="628.58,118.19 622.72,117.62 628.15,112.68 634.04,113.22" fill="#feff66"/>
<polygon points="622.72,117.62 616.87,117.05 622.29,112.14 628.15,112.68" fill="#e7ff66"/>
<polygon points="616.87,117.05 611.06,116.48 616.46,111.61 622.29,112.14" fill="#d1ff66"/>
<polygon points="611.06,116.48 605.27,115.92 610.66,111.08 616.46,111.61" fill="#baff66"/>
<polygon points="605.27,115.92 599.51,115.35 604.88,110.55 610.66,111.08" fill="#a3ff66"/>
<polygon points="599.51,115.35 593.77,114.80 599.13,110.02 604.88,110.55" fill="#8dff66"/>
<polygon points="593.77,114.80 588.06,114.24 593.41,109.50 599.13,110.02" fill="#76ff66"/>
<polygon points="588.06,114.24 582.37,113.68 587.72,108.98 593.41,109.50" fill="#66ff6c"/>
<polygon points="582.37,113.68 576.71,113.13 582.05,108.46 587.72,108.98" fill="#66ff83"/>
<polygon points="576.71,113.13 571.07,112.58 576.40,107.94 582.05,108.46" fill="#66ff9a"/>
<polygon points="571.07,112.58 565.46,112.04 570.79,107.43 576.40,107.94" fill="#66ffb0"/>
<polygon points="565.46,112.04 559.87,111.49 565.19,106.92 570.79,107.43" fill="#66ffc7"/>
<polygon points="559.87,111.49 554.31,110.95 559.63,106.41 565.19,106.92" fill="#66ffde"/>
<polygon points="554.31,110.95 548.78,110.41 554.09,105.90 559.63,106.41" fill="#66fff4"/>
<polygon points="548.78,110.41 543.26,109.88 548.57,105.40 554.09,105.90" fill="#66f3ff"/>
<polygon points="543.26,109.88 537.77,109.34 543.08,104.89 548.57,105.40" fill="#66dcff"/>
<polygon points="537.77,109.34 532.31,108.81 537.62,104.39 543.08,104.89" fill="#66c6ff"/>
<polygon points="532.31,108.81 526.87,108.28 532.18,103.90 537.62,104.39" fill="#66afff"/>
<polygon points="526.87,108.28 521.45,107.75 526.76,103.40 532.18,103.90" fill="#6698ff"/>
<polygon points="657.86,115.40 651.86,114.85 657.37,109.78 663.39,110.30" fill="#ff9e66"/>
<polygon points="651.86,114.85 645.89,114.30 651.38,109.27 657.37,109.78" fill="#ffb566"/>
<polygon points="645.89,114.30 639.95,113.76 645.42,108.76 651.38,109.27" fill="#ffcc66"/>
<polygon points="639.95,113.76 634.04,113.22 639.49,108.25 645.42,108.76" fill="#ffe266"/>
<polygon points="634.04,113.22 628.15,112.68 633.59,107.75 639.49,108.25" fill="#fff966"/>
<polygon points="628.15,112.68 622.29,112.14 627.71,107.24 633.59,107.75" fill="#eeff66"/>
<polygon points="622.29,112.14 616.46,111.61 621.87,106.74 627.71,107.24" fill="#d8ff66"/>
<polygon points="616.46,111.61 610.66,111.08 616.05,106.24 621.87,106.74" fill="#c1ff66"/>
<polygon points="610.66,111.08 604.88,110.55 610.26,105.75 616.05,106.24" fill="#aaff66"/>
<polygon points="604.88,110.55 599.13,110.02 604.50,105.25 610.26,105.75" fill="#94ff66"/>
<polygon points="599.13,110.02 593.41,109.50 598.77,104.76 604.50,105.25" fill="#7dff66"/>
<polygon points="593.41,109.50 587.72,108.98 593.06,104.27 598.77,104.76" fill="#67ff66"/>
<polygon points="587.72,108.98 582.05,108.46 587.38,103.79 593.06,104.27" fill="#66ff7c"/>
<polygon points="582.05,108.46 576.40,107.94 581.73,103.30 587.38,103.79" fill="#66ff93"/>
<polygon points="576.40,107.94 570.79,107.43 576.11,102.82 581.73,103.30" fill="#66ffa9"/>
<polygon points="570.79,107.43 565.19,106.92 570.51,102.34 576.11,102.82" fill="#66ffc0"/>
<polygon points="565.19,106.92 559.63,106.41 564.94,101.87 570.51,102.34" fill="#66ffd7"/>
<polygon points="559.63,106.41 554.09,105.90 559.40,101.39 564.94,101.87" fill="#66ffed"/>
<polygon points="554.09,105.90 548.57,105.40 553.88,100.92 559.40,101.39" fill="#66faff"/>
<polygon points="548.57,105.40 543.08,104.89 548.39,100.45 553.88,100.92" fill="#66e3ff"/>
<polygon points="543.08,104.89 537.62,104.39 542.92,99.98 548.39,100.45" fill="#66cdff"/>
<polygon points="537.62,104.39 532.18,103.90 537.48,99.51 542.92,99.98" fill="#66b6ff"/>
<polygon points="532.18,103.90 526.76,103.40 532.07,99.05 537.48,99.51" fill="#669fff"/>
<polygon points="663.39,110.30 657.37,109.78 662.89,104.72 668.93,105.20" fill="#ff9766"/>
<polygon points="657.37,109.78 651.38,109.27 656.87,104.24 662.89,104.72" fill="#ffae66"/>
<polygon points="651.38,109.27 645.42,108.76 650.89,103.76 656.87,104.24" fill="#ffc566"/>
<polygon points="645.42,108.76 639.49,108.25 644.94,103.29 650.89,103.76" fill="#ffdb66"/>
<polygon points="639.49,108.25 633.59,107.75 639.02,102.81 644.94,103.29" fill="#fff266"/>
<polygon points="633.59,107.75 627.71,107.24 633.13,102.34 639.02,102.81" fill="#f5ff66"/>
<polygon points="627.71,107.24 621.87,106.74 627.27,101.87 633.13,102.34" fill="#dfff66"/>
<polygon points="621.87,106.74 616.05,106.24 621.44,101.41 627.27,101.87" fill="#c8ff66"/>
<polygon points="616.05,106.24 610.26,105.75 615.64,100.95 621.44,101.41" fill="#b1ff66"/>
<polygon points="610.26,105.75 604.50,105.25 609.86,100.49 615.64,100.95" fill="#9bff66"/>
<polygon points="604.50,105.25 598.77,104.76 604.12,100.03 609.86,100.49" fill="#84ff66"/>
<polygon points="598.77,104.76 593.06,104.27 598.41,99.57 604.12,100.03" fill="#6eff66"/>
<polygon points="593.06,104.27 587.38,103.79 592.72,99.12 598.41,99.57" fill="#66ff75"/>
<polygon points="587.38,103.79 581.73,103.30 587.06,98.67 592.72,99.12" fill="#66ff8c"/>
<polygon points="581.73,103.30 576.11,102.82 581.43,98.22 587.06,98.67" fill="#66ffa2"/>
<polygon points="576.11,102.82 570.51,102.34 575.83,97.77 581.43,98.22" fill="#66ffb9"/>
<polygon points="570.51,102.34 564.94,101.87 570.26,97.32 575.83,97.77" fill="#66ffd0"/>
<polygon points="564.94,101.87 559.40,101.39 564.71,96.88 570.26,97.32" fill="#66ffe6"/>
<polygon points="559.40,101.39 553.88,100.92 559.19,96.44 564.71,96.88" fill="#66fffd"/>
<polygon points="553.88,100.92 548.39,100.45 553.70,96.00 559.19,96.44" fill="#66eaff"/>
<polygon points="548.39,100.45 542.92,99.98 548.23,95.57 553.70,96.00" fill="#66d4ff"/>
<polygon points="542.92,99.98 537.48,99.51 542.79,95.13 548.23,95.57" fill="#66bdff"/>
<polygon points="537.48,99.51 532.07,99.05 537.38,94.70 542.79,95.13" fill="#66a6ff"/>
<polygon points="668.93,105.20 662.89,104.72 668.40,99.65 674.47,100.10" fill="#ff9066"/>
<polygon points="662.89,104.72 656.87,104.24 662.37,99.20 668.40,99.65" fill="#ffa766"/>
<polygon points="656.87,104.24 650.89,103.76 656.36,98.76 662.37,99.20" fill="#ffbe66"/>
<polygon points="650.89,103.76 644.94,103.29 650.39,98.32 656.36,98.76" fill="#ffd466"/>
<polygon points="644.94,103.29 639.02,102.81 644.46,97.88 650.39,98.32" fill="#ffeb66"/>
<polygon points="639.02,102.81 633.13,102.34 638.55,97.44 644.46,97.88" fill="#fcff66"/>
<polygon points="633.13,102.34 627.27,101.87 632.67,97.01 638.55,97.44" fill="#e6ff66"/>
<polygon points="627.27,101.87 621.44,101.41 626.83,96.58 632.67,97.01" fill="#cfff66"/>
<polygon points="621.44,101.41 615.64,100.95 621.01,96.15 626.83,96.58" fill="#b9ff66"/>
<polygon points="615.64,100.95 609.86,100.49 615.23,95.72 621.01,96.15" fill="#a2ff66"/>
<polygon points="609.86,100.49 604.12,100.03 609.48,95.29 615.23,95.72" fill="#8bff66"/>
<polygon points="604.12,100.03 598.41,99.57 603.75,94.87 609.48,95.29" fill="#75ff66"/>
<polygon points="598.41,99.57 592.72,99.12 598.06,94.45 603.75,94.87" fill="#66ff6e"/>
<polygon points="592.72,99.12 587.06,98.67 592.39,94.03 598.06,94.45" fill="#66ff85"/>
<polygon points="587.06,98.67 581.43,98.22 586.76,93.61 592.39,94.03" fill="#66ff9b"/>
<polygon points="581.43,98.22 575.83,97.77 581.15,93.20 586.76,93.61" fill="#66ffb2"/>
<polygon points="575.83,97.77 570.26,97.32 575.57,92.78 581.15,93.20" fill="#66ffc9"/>
<polygon points="570.26,97.32 564.71,96.88 570.02,92.37 575.57,92.78" fill="#66ffdf"/>
<polygon points="564.71,96.88 559.19,96.44 564.50,91.96 570.02,92.37" fill="#66fff6"/>
<polygon points="559.19,96.44 553.70,96.00 559.00,91.56 564.50,91.96" fill="#66f1ff"/>
<polygon points="553.70,96.00 548.23,95.57 553.54,91.15 559.00,91.56" fill="#66dbff"/>
<polygon points="548.23,95.57 542.79,95.13 548.10,90.75 553.54,91.15" fill="#66c4ff"/>
<polygon points="542.79,95.13 537.38,94.70 542.69,90.35 548.10,90.75" fill="#66aeff"/>
<polygon points="674.47,100.10 668.40,99.65 673.91,94.58 680.00,95.00" fill="#ff8966"/>
<polygon points="668.40,99.65 662.37,99.20 667.86,94.17 673.91,94.58" fill="#ffa066"/>
<polygon points="662.37,99.20 656.36,98.76 661.83,93.76 667.86,94.17" fill="#ffb766"/>
<polygon points="656.36,98.76 650.39,98.32 655.85,93.35 661.83,93.76" fill="#ffcd66"/>
<polygon points="650.39,98.32 644.46,97.88 649.89,92.95 655.85,93.35" fill="#ffe466"/>
<polygon points="644.46,97.88 638.55,97.44 643.97,92.54 649.89,92.95" fill="#fffb66"/>
<polygon points="638.55,97.44 632.67,97.01 638.08,92.14 643.97,92.54" fill="#edff66"/>
<polygon points="632.67,97.01 626.83,96.58 632.22,91.74 638.08,92.14" fill="#d6ff66"/>
<polygon points="626.83,96.58 621.01,96.15 626.39,91.34 632.22,91.74" fill="#c0ff66"/>
<polygon points="621.01,96.15 615.23,95.72 620.59,90.95 626.39,91.34" fill="#a9ff66"/>
<polygon points="615.23,95.72 609.48,95.29 614.83,90.56 620.59,90.95" fill="#92ff66"/>
<polygon points="609.48,95.29 603.75,94.87 609.10,90.17 614.83,90.56" fill="#7cff66"/>
<polygon points="603.75,94.87 598.06,94.45 603.39,89.78 609.10,90.17" fill="#66ff67"/>
<polygon points="598.06,94.45 592.39,94.03 597.72,89.39 603.39,89.78" fill="#66ff7e"/>
<polygon points="592.39,94.03 586.76,93.61 592.08,89.01 597.72,89.39" fill="#66ff94"/>
<polygon points="586.76,93.61 581.15,93.20 586.47,88.62 592.08,89.01" fill="#66ffab"/>
<polygon points="581.15,93.20 575.57,92.78 580.88,88.24 586.47,88.62" fill="#66ffc2"/>
<polygon points="575.57,92.78 570.02,92.37 575.33,87.86 580.88,88.24" fill="#66ffd8"/>
<polygon points="570.02,92.37 564.50,91.96 569.81,87.49 575.33,87.86" fill="#66ffef"/>
<polygon points="564.50,91.96 559.00,91.56 564.31,87.11 569.81,87.49" fill="#66f8ff"/>
<polygon points="559.00,91.56 553.54,91.15 558.85,86.74 564.31,87.11" fill="#66e2ff"/>
<polygon points="553.54,91.15 548.10,90.75 553.41,86.37 558.85,86.74" fill="#66cbff"/>
<polygon points="548.10,90.75 542.69,90.35 548.00,86.00 553.41,86.37" fill="#66b5ff"/>
</g>
<circle cx="582.2" cy="85.8" r="2.6" fill="#b40000" stroke="#7a0000" stroke-width="0.5"/>
<circle cx="680.8" cy="92.8" r="2.6" fill="#b40000" stroke="#7a0000" stroke-width="0.5"/>
<circle cx="633.6" cy="115.7" r="2.4" fill="#b40000" stroke="#7a0000" stroke-width="0.5"/>
<circle cx="578.2" cy="162.0" r="2.4" fill="#b40000" stroke="#7a0000" stroke-width="0.5"/>
<circle cx="569.5" cy="195.2" r="2.4" fill="#b40000" stroke="#7a0000" stroke-width="0.5"/>
<circle cx="530.7" cy="131.6" r="3.9" fill="#fff" stroke="#a00000" stroke-width="1"/>
<circle cx="530.7" cy="131.6" r="1.9" fill="#c00000"/>
<g font-family="Liberation Sans, sans-serif" font-size="7.6" fill="#222">
<text x="437.7" y="179.8" text-anchor="end">28</text>
<text x="434.7" y="159.0" text-anchor="end">30</text>
<text x="431.7" y="138.2" text-anchor="end">32</text>
<text x="428.7" y="117.3" text-anchor="end">34</text>
<text x="425.7" y="96.5" text-anchor="end">36</text>
<text x="562.2" y="287.2" text-anchor="middle">0</text>
<text x="542.2" y="276.7" text-anchor="middle">0.1</text>
<text x="524.6" y="266.1" text-anchor="middle">0.2</text>
<text x="507.1" y="255.6" text-anchor="middle">0.3</text>
<text x="489.5" y="245.1" text-anchor="middle">0.4</text>
<text x="472.0" y="234.6" text-anchor="middle">0.5</text>
<text x="454.4" y="224.0" text-anchor="middle">0.6</text>
<text x="436.9" y="213.5" text-anchor="middle">0.7</text>
<text x="575.0" y="287.2" text-anchor="middle">0</text>
<text x="599.9" y="266.4" text-anchor="middle">5</text>
<text x="626.0" y="243.7" text-anchor="middle">10</text>
<text x="650.7" y="222.2" text-anchor="middle">15</text>
<text x="675.3" y="200.8" text-anchor="middle">20</text>
</g>
<text x="578" y="11.2" text-anchor="middle" textLength="66.4" lengthAdjust="spacingAndGlyphs" font-family="Liberation Sans, sans-serif" font-size="12" fill="#222">3D Surface</text>
<text x="470.8" y="280.2" text-anchor="middle" textLength="48.3" lengthAdjust="spacingAndGlyphs" font-family="Liberation Sans, sans-serif" font-size="10.3" fill="#222">B: AP (%)</text>
<text x="660.2" y="268" text-anchor="middle" textLength="46.2" lengthAdjust="spacingAndGlyphs" font-family="Liberation Sans, sans-serif" font-size="10.2" fill="#222">A: SF (%)</text>
<text transform="translate(404.3,155) rotate(-90)" text-anchor="middle" textLength="51.3" lengthAdjust="spacingAndGlyphs" font-family="Liberation Sans, sans-serif" font-size="10.7" fill="#222">MOE (GPa)</text>
</svg>
</body></html>
